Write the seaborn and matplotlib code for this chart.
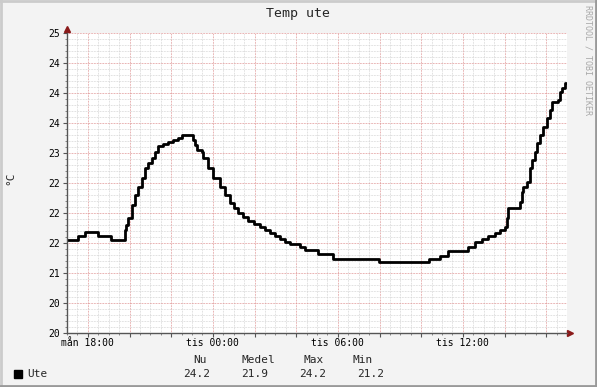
import pandas as pd
import matplotlib
matplotlib.use("Agg")
import matplotlib.pyplot as plt
import matplotlib.dates as mdates
import matplotlib.ticker as mticker
from matplotlib.patches import Rectangle
import seaborn as sns

# Temperature readings (Mon 17:00 -> Tue 17:00)
mon_times = ["17:00", "17:32", "17:52", "18:29", "19:07", "19:47", "19:50", "19:56",
             "20:07", "20:16", "20:25", "20:36", "20:45", "20:53", "21:05", "21:13",
             "21:22", "21:37", "21:51", "22:05", "22:20", "22:31", "23:03", "23:08",
             "23:14", "23:29", "23:32", "23:46"]
mon_temps = [21.55, 21.62, 21.68, 21.62, 21.55, 21.72, 21.80, 21.92,
             22.13, 22.30, 22.43, 22.58, 22.75, 22.83, 22.92, 23.02,
             23.12, 23.15, 23.18, 23.22, 23.25, 23.30, 23.22, 23.13,
             23.05, 23.02, 22.92, 22.75]
tue_times = ["00:00", "00:20", "00:35", "00:49", "01:01", "01:12", "01:27", "01:41",
             "01:58", "02:16", "02:30", "02:45", "02:59", "03:13", "03:28", "03:42",
             "04:11", "04:25", "05:03", "05:46", "07:59", "10:23", "10:54", "11:17",
             "12:15", "12:35", "12:55", "13:12", "13:33", "13:47", "14:01", "14:07",
             "14:10", "14:45", "14:50", "14:53", "15:05", "15:13", "15:19", "15:28",
             "15:34", "15:42", "15:51", "16:02", "16:11", "16:17", "16:34", "16:40",
             "16:46", "16:54", "16:57"]
tue_temps = [22.58, 22.43, 22.30, 22.17, 22.08, 22.00, 21.93, 21.87,
             21.82, 21.77, 21.72, 21.67, 21.62, 21.57, 21.52, 21.48,
             21.43, 21.38, 21.32, 21.23, 21.18, 21.23, 21.28, 21.37,
             21.43, 21.52, 21.57, 21.62, 21.67, 21.72, 21.77, 21.92,
             22.08, 22.18, 22.35, 22.43, 22.52, 22.75, 22.88, 23.02,
             23.17, 23.30, 23.43, 23.58, 23.72, 23.85, 23.88, 24.02,
             24.08, 24.17, 24.17]

weekdays_sv = ["mån", "tis", "ons", "tor", "fre", "lör", "sön"]
stat_names = ["Nu", "Medel", "Max", "Min"]
stat_values = [24.2, 21.9, 24.2, 21.2]
series_name = "Ute"

df = pd.DataFrame({
    "time": pd.to_datetime(["2024-01-15 " + t for t in mon_times] +
                           ["2024-01-16 " + t for t in tue_times]),
    "temp": mon_temps + tue_temps,
})

sns.set_theme(style="white")
plt.rcParams["font.family"] = ["DejaVu Sans Mono"]

fig = plt.figure(figsize=(5.97, 3.87), dpi=100, facecolor="#F3F3F3")
ax = fig.add_axes([67 / 597, 1 - 333 / 387, 500 / 597, 300 / 387])
ax.set_facecolor("white")

sns.lineplot(data=df, x="time", y="temp", color="black", lw=2,
             drawstyle="steps-post", ax=ax)

t0 = pd.Timestamp("2024-01-15 17:00")
t1 = pd.Timestamp("2024-01-16 17:00")
ax.set_xlim(t0, t1)
ax.set_ylim(20, 25)

# major: every 2 h (labels every 6 h), minor: every 30 min not on a major
ax.xaxis.set_major_locator(mdates.HourLocator(byhour=range(0, 24, 2)))
half_hours = pd.date_range(t0, t1, freq="30min")
minor_x = [t for t in half_hours if not (t.minute == 0 and t.hour % 2 == 0)]
ax.xaxis.set_minor_locator(mticker.FixedLocator(mdates.date2num(minor_x)))


def fmt_time(x, pos):
    hour = int(round((x % 1) * 24)) % 24
    if hour % 6 != 0:
        return ""
    d = mdates.num2date(x + 1e-4)
    return f"{weekdays_sv[d.weekday()]} {hour:02d}:00"


ax.xaxis.set_major_formatter(mticker.FuncFormatter(fmt_time))
ax.yaxis.set_major_locator(mticker.MultipleLocator(0.5))
ax.yaxis.set_minor_locator(mticker.FixedLocator([20 + i / 10 for i in range(51) if i % 5]))
ax.yaxis.set_major_formatter(mticker.StrMethodFormatter("{x:.0f}"))

ax.grid(which="minor", color="#D4D4D4", lw=0.7, linestyle=(0, (0.7, 0.9)))
ax.grid(which="major", color="#DE9090", lw=0.7, linestyle=(0, (0.7, 0.9)))
ax.set_axisbelow(True)

for s in ["top", "right"]:
    ax.spines[s].set_visible(False)
for s in ["left", "bottom"]:
    ax.spines[s].set_color("#555555")
    ax.spines[s].set_linewidth(1)

ax.tick_params(which="major", length=3, width=0.8, color="#555555",
               labelsize=7, labelcolor="black")
ax.tick_params(axis="x", which="major", pad=0.5)
ax.tick_params(axis="y", which="major", pad=2)
ax.tick_params(which="minor", length=1.5, width=0.6, color="#777777")
ax.tick_params(axis="x", which="both", bottom=True)
ax.tick_params(axis="y", which="both", left=True)
ax.set_xlabel("")
ax.set_ylabel("")

# axis arrows
ax.plot([0], [1.012], marker="^", color="#8B1A1A", ms=4, transform=ax.transAxes, clip_on=False)
ax.plot([1.006], [0], marker=">", color="#8B1A1A", ms=4, transform=ax.transAxes, clip_on=False)

fig.text(0.5, 1 - 14 / 387, "Temp ute", ha="center", va="center", fontsize=9.5)
fig.text(10 / 597, 1 - 178 / 387, "°C", rotation=90, ha="center", va="center", fontsize=8)
fig.text(588 / 597, 1 - 5 / 387, "RRDTOOL / TOBI OETIKER", rotation=270,
         ha="center", va="top", fontsize=6, color="#A8A8A8")

# legend row
fig.patches.append(Rectangle((14 / 597, 1 - 378 / 387), 8 / 597, 8 / 387,
                             transform=fig.transFigure, color="black"))
fig.text(27 / 597, 1 - 374 / 387, series_name, va="center", fontsize=8)
header_x = [200, 258, 314, 363]
value_x = [210, 268, 326, 384]
for name, hx, val, vx in zip(stat_names, header_x, stat_values, value_x):
    fig.text(hx / 597, 1 - 360 / 387, name, ha="center", va="center", fontsize=8)
    fig.text(vx / 597, 1 - 374 / 387, f"{val:.1f}", ha="right", va="center", fontsize=8)

# frame
fig.add_artist(plt.Line2D([0, 1], [0.997, 0.997], color="#CBCBCB", lw=2, transform=fig.transFigure))
fig.add_artist(plt.Line2D([0.002, 0.002], [0, 1], color="#CBCBCB", lw=2, transform=fig.transFigure))
fig.add_artist(plt.Line2D([0, 1], [0.003, 0.003], color="#999999", lw=2, transform=fig.transFigure))
fig.add_artist(plt.Line2D([0.998, 0.998], [0, 1], color="#999999", lw=2, transform=fig.transFigure))

fig.savefig("out.png", dpi=100, facecolor=fig.get_facecolor())
